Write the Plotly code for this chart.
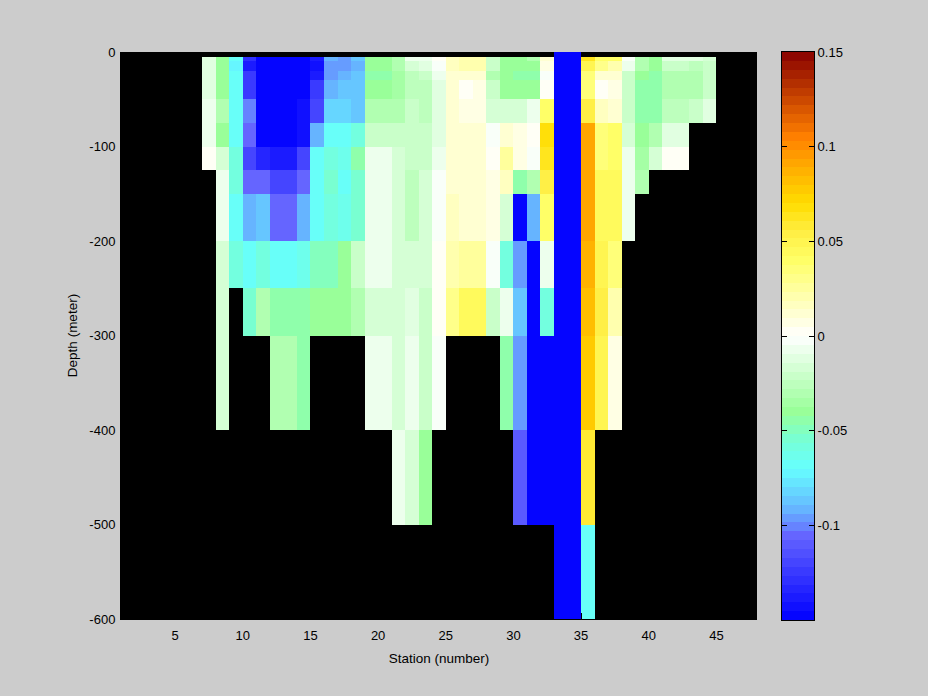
import numpy as np
import plotly.graph_objects as go

N = None
depth_edges = [0, -5, -10, -20, -30, -50, -75, -100, -125, -150, -200, -250, -300, -400, -500, -600]
station_edges = list(range(1, 49))
x_ticks = [5, 10, 15, 20, 25, 30, 35, 40, 45]
y_ticks = [0, -100, -200, -300, -400, -500, -600]
y_tick_labels = ["0", "-100", "-200", "-300", "-400", "-500", "-600"]
cbar_ticks = [-0.1, -0.05, 0, 0.05, 0.1, 0.15]
cbar_labels = ["-0.1", "-0.05", "0", "0.05", "0.1", "0.15"]

# values per station column, from the surface row (0-5 m) downward
st07 = [N, -.01, -.01, -.01, -.01, -.005, -.005, .003]
st08 = [N, -.04, -.04, -.04, -.04, -.03, -.04, -.018, -.005, -.005, -.015, -.015, -.015]
st09 = [N, -.07, -.075, -.07, -.07, -.07, -.07, -.06, -.06, -.07, -.06]
st10 = [N, -.13, -.14, -.125, -.125, -.1, -.105, -.12, -.105, -.092, -.068, -.055]
st11 = [N, -.15, -.15, -.15, -.15, -.15, -.15, -.135, -.105, -.085, -.06, -.03]
st12 = [N, -.15, -.15, -.15, -.15, -.15, -.15, -.14, -.12, -.105, -.07, -.045, -.03]
st13 = [N, -.15, -.15, -.15, -.15, -.15, -.15, -.14, -.12, -.105, -.07, -.045, -.03]
st14 = [N, -.15, -.15, -.15, -.15, -.145, -.145, -.12, -.105, -.092, -.065, -.045, -.045]
st15 = [N, -.14, -.145, -.14, -.125, -.12, -.092, -.07, -.068, -.07, -.05, -.04]
st16 = [N, -.092, -.098, -.095, -.092, -.08, -.07, -.06, -.055, -.058, -.05, -.04]
st17 = [N, -.098, -.098, -.09, -.088, -.08, -.07, -.065, -.068, -.065, -.04, -.04]
st18 = [N, -.088, -.09, -.088, -.085, -.085, -.06, -.045, -.055, -.055, -.022, -.03]
st19 = [N, -.04, -.04, -.045, -.04, -.03, -.022, -.008, -.005, -.005, -.005, -.016, -.005]
st20 = [N, -.04, -.04, -.045, -.04, -.03, -.022, -.008, -.005, -.005, -.005, -.016, -.005]
st21 = [N, -.03, -.03, -.037, -.037, -.03, -.022, -.015, -.015, -.015, -.015, -.018, -.015, -.005]
st22 = [N, -.008, -.015, -.028, -.028, -.02, -.022, -.022, -.028, -.025, -.018, -.012, -.005, -.015]
st23 = [N, -.005, -.01, -.022, -.025, -.025, -.022, -.022, -.018, -.018, -.018, -.02, -.02, -.04]
st24 = [N, .001, -.002, -.006, -.01, -.01, -.01, -.005, -.002, -.002, .002, .002, -.004]
st25 = [N, .018, .018, .01, .01, .01, .01, .01, .012, .018, .022, .032]
st26 = [N, .02, .02, .012, .004, .005, .01, .01, .012, .012, .028, .045]
st27 = [N, .02, .02, .012, .005, .005, .01, .01, .012, .012, .028, .045]
st28 = [N, -.02, -.02, -.03, -.022, -.015, -.003, .002, .006, .008, -.001, -.02]
st29 = [N, -.04, -.04, -.04, -.04, -.015, .012, .028, .018, -.015, -.06, -.005, -.045]
st30 = [N, -.04, -.04, -.045, -.04, -.015, .006, .005, -.045, -.15, -.098, -.085, -.098, -.11]
st31 = [N, -.032, -.04, -.045, -.04, -.008, .002, -.002, -.03, -.09, -.15, -.15, -.15, -.15]
st32 = [N, .012, .008, -.002, .002, .04, .07, .065, .055, .042, -.005, -.058, -.15, -.15]
st33 = [-.15] * 15
st34 = [-.15] * 15
st35 = [N, .062, .05, .035, .035, .055, .09, .09, .09, .09, .085, .08, .075, .06, -.068]
st36 = [N, .04, .032, .012, .003, .018, .035, .035, .045, .045, .05, .052, .05]
st37 = [N, .04, .02, .01, .008, .01, .04, .04, .045, .045, .035, .022, .005]
st38 = [N, -.004, -.005, -.02, -.02, -.02, -.015, -.008, -.005, -.005]
st39 = [N, -.03, -.032, -.04, -.045, -.045, -.04, -.033, -.03]
st40 = [N, -.038, -.04, -.045, -.045, -.045, -.03, -.015]
st41 = [N, -.01, -.02, -.03, -.03, -.025, -.01, .002]
st42 = [N, -.01, -.02, -.03, -.03, -.025, -.01, .002]
st43 = [N, -.012, -.028, -.03, -.03, -.022]
st44 = [N, -.015, -.02, -.02, -.02, -.01]

columns = {7: st07, 8: st08, 9: st09, 10: st10, 11: st11, 12: st12, 13: st13, 14: st14,
           15: st15, 16: st16, 17: st17, 18: st18, 19: st19, 20: st20, 21: st21, 22: st22,
           23: st23, 24: st24, 25: st25, 26: st26, 27: st27, 28: st28, 29: st29, 30: st30,
           31: st31, 32: st32, 33: st33, 34: st34, 35: st35, 36: st36, 37: st37, 38: st38,
           39: st39, 40: st40, 41: st41, 42: st42, 43: st43, 44: st44}

n_rows, n_cols = len(depth_edges) - 1, len(station_edges) - 1
z = [[N] * n_cols for _ in range(n_rows)]
for s, vals in columns.items():
    for r, v in enumerate(vals):
        z[r][s - 1] = v

# 64-step colour map
anchor_vals = [-.15, -.105, -.1, -.09, -.07, -.055, -.04, 0, .04, .055, .07, .09, .105, .15]
anchor_rgb = [(0, 0, 255), (102, 102, 255), (102, 136, 255), (102, 187, 255), (102, 255, 255),
              (119, 255, 213), (153, 255, 153), (255, 255, 255), (255, 255, 102), (255, 238, 68),
              (255, 221, 0), (255, 170, 0), (255, 128, 0), (136, 0, 0)]
LEVELS = 64
zmin, zmax = -0.15, 0.15
centers = zmin + (np.arange(LEVELS) + .5) * (zmax - zmin) / LEVELS
rgb = np.array([np.interp(centers, anchor_vals, [c[i] for c in anchor_rgb]) for i in range(3)]).T
scale = []
for i, c in enumerate(rgb):
    col = "rgb(%d,%d,%d)" % tuple(np.round(c))
    scale += [[i / LEVELS, col], [(i + 1) / LEVELS, col]]

W, H = 928, 696
FONT = dict(family="Liberation Sans", size=13, color="black")

fig = go.Figure()
fig.add_trace(go.Heatmap(x=station_edges, y=depth_edges, z=z, zmin=zmin, zmax=zmax,
                         colorscale=scale, showscale=False, hoverongaps=False))
cbar_edges = np.linspace(zmin, zmax, LEVELS + 1)
fig.add_trace(go.Heatmap(x=[0, 1], y=cbar_edges, z=[[v] for v in centers], zmin=zmin, zmax=zmax,
                         colorscale=scale, showscale=False, xaxis="x2", yaxis="y2"))

fig.update_layout(
    width=W, height=H, margin=dict(l=0, r=0, t=0, b=0), autosize=False,
    paper_bgcolor="#cccccc", plot_bgcolor="black", font=FONT, showlegend=False,
    xaxis=dict(domain=[121 / W, 757 / W], range=[1, 48], tickvals=x_ticks, ticks="inside", ticklen=6,
               tickcolor="black", showgrid=False, zeroline=False, showline=True, linecolor="black",
               automargin=False, ticklabelstandoff=4,
               title=dict(text="Station (number)", font=dict(size=13.5), standoff=11),
               anchor="y"),
    yaxis=dict(domain=[1 - 619 / H, 1 - 52 / H], range=[-600, 0], tickvals=y_ticks,
               ticktext=y_tick_labels, ticks="inside", ticklen=6, tickcolor="black", showgrid=False,
               zeroline=False, showline=True, linecolor="black", automargin=False,
               ticklabelstandoff=2,
               title=dict(text="Depth (meter)", font=dict(size=13.5), standoff=8), anchor="x"),
    xaxis2=dict(domain=[781.5 / W, 814 / W], range=[0, 1], showticklabels=False, ticks="",
                showgrid=False, zeroline=False, showline=True, linecolor="black", linewidth=1,
                mirror=True, automargin=False, anchor="y2"),
    yaxis2=dict(domain=[1 - 620 / H, 1 - 52 / H], range=[zmin, zmax], tickvals=cbar_ticks,
                ticktext=cbar_labels, side="right", ticks="inside", ticklen=5, tickcolor="black",
                showgrid=False, zeroline=False, showline=True, linecolor="black", linewidth=1,
                mirror="allticks", automargin=False, anchor="x2"),
)
fig.write_html("out.html", config={"displayModeBar": False},
               post_script="document.body.style.margin='0';document.body.style.background='#cccccc';")
